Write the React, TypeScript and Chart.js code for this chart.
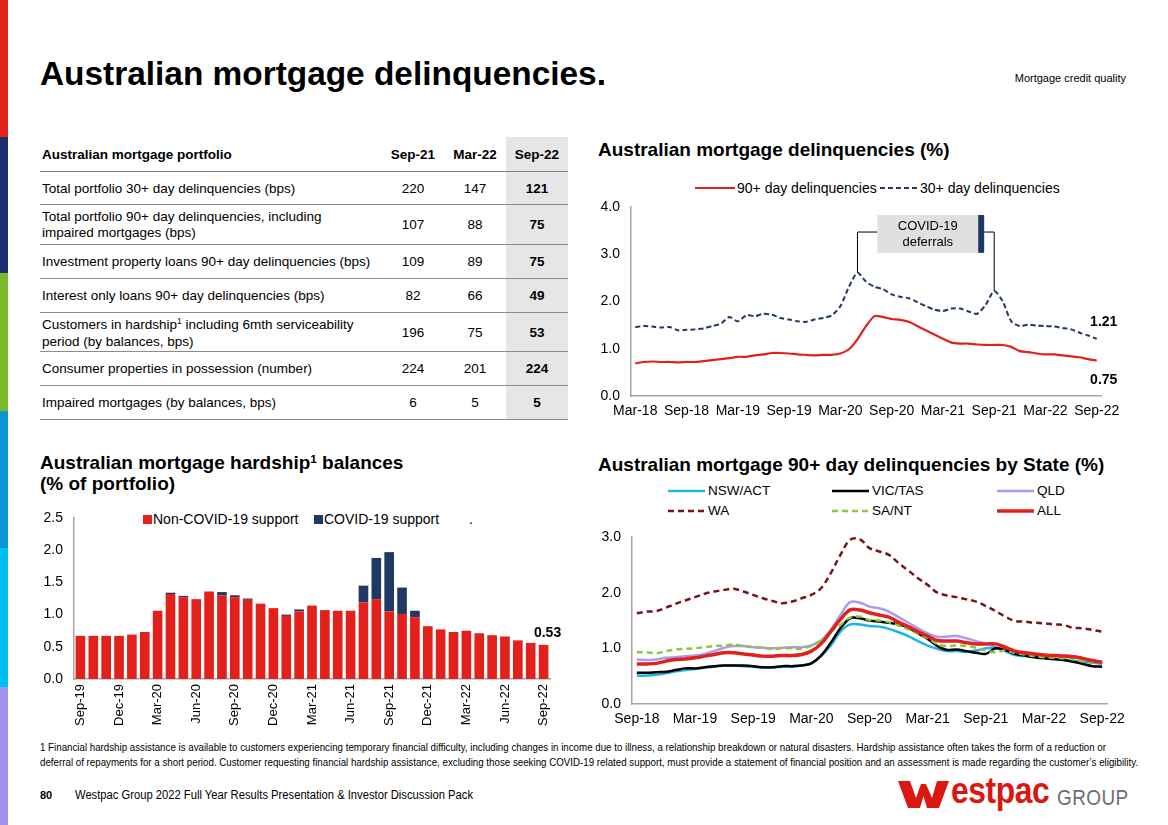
import React, { useEffect, useLayoutEffect, useRef } from 'react';
import { Chart, registerables } from 'chart.js';

Chart.register(...registerables);

const SANS = '"Liberation Sans", Arial, Helvetica, sans-serif';
const NARROW = '"Liberation Sans Narrow", "Arial Narrow", "Liberation Sans", Arial, sans-serif';
Chart.defaults.font.family = SANS;
Chart.defaults.color = '#000';

const RED = '#e3211c';
const NAVY = '#1f3864';
const AXIS = '#a6a6a6';

// ---------- Table data ----------
const tableTitle = 'Australian mortgage portfolio';
const tablePeriods = ['Sep-21', 'Mar-22', 'Sep-22'];
const tableLabels = [
  ['Total portfolio 30+ day delinquencies (bps)'],
  ['Total portfolio 90+ day delinquencies, including', 'impaired mortgages (bps)'],
  ['Investment property loans 90+ day delinquencies (bps)'],
  ['Interest only loans 90+ day delinquencies (bps)'],
  ['Customers in hardship¹ including 6mth serviceability', 'period (by balances, bps)'],
  ['Consumer properties in possession (number)'],
  ['Impaired mortgages (by balances, bps)'],
];
const valuesSep21 = [220, 107, 109, 82, 196, 224, 6];
const valuesMar22 = [147, 88, 89, 66, 75, 201, 5];
const valuesSep22 = [121, 75, 75, 49, 53, 224, 5];

// ---------- Delinquencies (%) chart ----------
const delinqMonths = [
  'Mar-18', 'Apr-18', 'May-18', 'Jun-18', 'Jul-18', 'Aug-18', 'Sep-18', 'Oct-18', 'Nov-18', 'Dec-18',
  'Jan-19', 'Feb-19', 'Mar-19', 'Apr-19', 'May-19', 'Jun-19', 'Jul-19', 'Aug-19', 'Sep-19', 'Oct-19', 'Nov-19', 'Dec-19',
  'Jan-20', 'Feb-20', 'Mar-20', 'Apr-20', 'May-20', 'Jun-20', 'Jul-20', 'Aug-20', 'Sep-20', 'Oct-20', 'Nov-20', 'Dec-20',
  'Jan-21', 'Feb-21', 'Mar-21', 'Apr-21', 'May-21', 'Jun-21', 'Jul-21', 'Aug-21', 'Sep-21', 'Oct-21', 'Nov-21', 'Dec-21',
  'Jan-22', 'Feb-22', 'Mar-22', 'Apr-22', 'May-22', 'Jun-22', 'Jul-22', 'Aug-22', 'Sep-22',
];
const delinq90 = [
  0.69, 0.72, 0.73, 0.72, 0.72, 0.71,
  0.72, 0.72, 0.74, 0.76, 0.78, 0.80, 0.83, 0.83, 0.86, 0.88, 0.91, 0.91,
  0.90, 0.88, 0.87, 0.86, 0.87, 0.87, 0.90, 0.99, 1.20, 1.48, 1.69, 1.67,
  1.63, 1.61, 1.57, 1.48, 1.39, 1.30, 1.21, 1.13, 1.11, 1.11, 1.09, 1.08,
  1.08, 1.08, 1.04, 0.95, 0.93, 0.90, 0.88, 0.88, 0.86, 0.84, 0.82, 0.78,
  0.75,
];
const delinq30 = [
  1.46, 1.48, 1.47, 1.45, 1.46, 1.39,
  1.40, 1.41, 1.43, 1.48, 1.53, 1.67, 1.58, 1.71, 1.69, 1.74, 1.72, 1.65,
  1.62, 1.58, 1.57, 1.62, 1.65, 1.71, 1.90, 2.31, 2.61, 2.42, 2.31, 2.26,
  2.15, 2.10, 2.07, 1.99, 1.90, 1.83, 1.80, 1.85, 1.85, 1.79, 1.74, 1.93,
  2.22, 2.00, 1.58, 1.48, 1.51, 1.49, 1.48, 1.47, 1.44, 1.41, 1.34, 1.28,
  1.21,
];
const deferralStart = 'May-20';
const deferralEnd = 'Sep-21';
const deferralText = ['COVID-19', 'deferrals'];

// ---------- Hardship balances chart ----------
const hardshipMonths = [
  'Sep-19', 'Oct-19', 'Nov-19', 'Dec-19', 'Jan-20', 'Feb-20', 'Mar-20', 'Apr-20', 'May-20', 'Jun-20',
  'Jul-20', 'Aug-20', 'Sep-20', 'Oct-20', 'Nov-20', 'Dec-20', 'Jan-21', 'Feb-21', 'Mar-21', 'Apr-21',
  'May-21', 'Jun-21', 'Jul-21', 'Aug-21', 'Sep-21', 'Oct-21', 'Nov-21', 'Dec-21', 'Jan-22', 'Feb-22',
  'Mar-22', 'Apr-22', 'May-22', 'Jun-22', 'Jul-22', 'Aug-22', 'Sep-22',
];
const nonCovidSupport = [
  0.67, 0.67, 0.67, 0.67, 0.69, 0.73, 1.06, 1.32, 1.27, 1.24,
  1.36, 1.30, 1.27, 1.23, 1.17, 1.10, 0.98, 1.05, 1.14, 1.07,
  1.06, 1.06, 1.19, 1.24, 1.05, 1.01, 0.96, 0.82, 0.77, 0.73,
  0.75, 0.71, 0.68, 0.66, 0.60, 0.56, 0.53,
];
const covidSupport = [
  0, 0, 0, 0, 0, 0, 0, 0.02, 0.02, 0,
  0, 0.05, 0.03, 0.02, 0, 0, 0.02, 0.03, 0, 0,
  0, 0, 0.26, 0.64, 0.92, 0.41, 0.10, 0, 0, 0,
  0, 0, 0, 0, 0, 0, 0,
];

// ---------- 90+ by State chart ----------
const stateMonths = [
  'Sep-18', 'Oct-18', 'Nov-18', 'Dec-18', 'Jan-19', 'Feb-19', 'Mar-19', 'Apr-19', 'May-19', 'Jun-19', 'Jul-19', 'Aug-19',
  'Sep-19', 'Oct-19', 'Nov-19', 'Dec-19', 'Jan-20', 'Feb-20', 'Mar-20', 'Apr-20', 'May-20', 'Jun-20', 'Jul-20', 'Aug-20',
  'Sep-20', 'Oct-20', 'Nov-20', 'Dec-20', 'Jan-21', 'Feb-21', 'Mar-21', 'Apr-21', 'May-21', 'Jun-21', 'Jul-21', 'Aug-21',
  'Sep-21', 'Oct-21', 'Nov-21', 'Dec-21', 'Jan-22', 'Feb-22', 'Mar-22', 'Apr-22', 'May-22', 'Jun-22', 'Jul-22', 'Aug-22',
  'Sep-22',
];
const nswAct = [
  0.51, 0.51, 0.53, 0.55, 0.59, 0.61, 0.63, 0.65, 0.67, 0.69, 0.69, 0.68,
  0.67, 0.66, 0.66, 0.67, 0.67, 0.69, 0.73, 0.86, 1.05, 1.30, 1.43, 1.43,
  1.40, 1.39, 1.35, 1.29, 1.22, 1.13, 1.05, 0.99, 0.95, 0.95, 0.94, 0.96,
  1.00, 1.01, 0.95, 0.88, 0.86, 0.85, 0.83, 0.81, 0.80, 0.78, 0.76, 0.74,
  0.72,
];
const vicTas = [
  0.56, 0.56, 0.57, 0.58, 0.61, 0.64, 0.64, 0.66, 0.68, 0.69, 0.69, 0.69,
  0.68, 0.66, 0.66, 0.68, 0.68, 0.69, 0.73, 0.87, 1.10, 1.36, 1.54, 1.54,
  1.50, 1.48, 1.46, 1.43, 1.37, 1.27, 1.17, 1.04, 0.97, 0.98, 0.95, 0.92,
  0.90, 1.00, 0.97, 0.90, 0.87, 0.84, 0.82, 0.81, 0.79, 0.76, 0.72, 0.68,
  0.67,
];
const qld = [
  0.80, 0.79, 0.80, 0.83, 0.84, 0.86, 0.87, 0.90, 0.95, 1.01, 1.04, 1.04,
  1.02, 1.01, 1.00, 1.01, 1.02, 1.02, 1.05, 1.14, 1.33, 1.60, 1.83, 1.82,
  1.75, 1.72, 1.66, 1.56, 1.46, 1.36, 1.27, 1.21, 1.21, 1.22, 1.18, 1.13,
  1.08, 1.02, 0.95, 0.92, 0.90, 0.89, 0.88, 0.87, 0.87, 0.86, 0.82, 0.78,
  0.75,
];
const wa = [
  1.63, 1.66, 1.67, 1.73, 1.80, 1.86, 1.92, 1.98, 2.02, 2.05, 2.07, 2.02,
  1.96, 1.90, 1.85, 1.81, 1.84, 1.90, 1.96, 2.08, 2.35, 2.68, 2.95, 2.96,
  2.80, 2.74, 2.68, 2.53, 2.40, 2.26, 2.14, 2.00, 1.95, 1.92, 1.88, 1.84,
  1.76, 1.67, 1.57, 1.49, 1.48, 1.46, 1.45, 1.43, 1.42, 1.37, 1.36, 1.33,
  1.30,
];
const saNt = [
  0.93, 0.93, 0.91, 0.95, 0.98, 0.99, 1.00, 1.02, 1.04, 1.05, 1.07, 1.04,
  1.02, 1.01, 0.99, 1.00, 1.00, 0.99, 1.05, 1.14, 1.30, 1.42, 1.55, 1.57,
  1.51, 1.50, 1.47, 1.41, 1.34, 1.26, 1.18, 1.08, 1.04, 1.05, 1.04, 1.01,
  0.96, 0.93, 0.96, 0.92, 0.89, 0.86, 0.84, 0.83, 0.82, 0.80, 0.77, 0.75,
  0.74,
];
const allStates = [
  0.72, 0.72, 0.73, 0.77, 0.80, 0.81, 0.83, 0.86, 0.89, 0.92, 0.92, 0.90,
  0.88, 0.86, 0.86, 0.87, 0.87, 0.89, 0.95, 1.08, 1.30, 1.52, 1.69, 1.69,
  1.64, 1.60, 1.56, 1.47, 1.39, 1.30, 1.22, 1.14, 1.13, 1.13, 1.10, 1.08,
  1.08, 1.08, 1.02, 0.95, 0.92, 0.90, 0.88, 0.87, 0.86, 0.85, 0.82, 0.78,
  0.75,
];
const stateNames = ['NSW/ACT', 'VIC/TAS', 'QLD', 'WA', 'SA/NT', 'ALL'];
const stateSeries = [nswAct, vicTas, qld, wa, saNt, allStates];
const stateStyles = [
  { color: '#1cb5e8', width: 2.5, dash: [] as number[], order: 3 },
  { color: '#000000', width: 2.5, dash: [] as number[], order: 2 },
  { color: '#a89cf0', width: 2.5, dash: [] as number[], order: 4 },
  { color: '#7a1418', width: 2.5, dash: [6, 4], order: 5 },
  { color: '#8dc63f', width: 2.5, dash: [6, 4], order: 1 },
  { color: RED, width: 3.5, dash: [] as number[], order: 0 },
];

// ---------- footer text ----------
const footnoteLines = [
  '1 Financial hardship assistance is available to customers experiencing temporary financial difficulty, including changes in income due to illness, a relationship breakdown or natural disasters. Hardship assistance often takes the form of a reduction or',
  'deferral of repayments for a short period. Customer requesting financial hardship assistance, excluding those seeking COVID-19 related support, must provide a statement of financial position and an assessment is made regarding the customer’s eligibility.',
];
const footerPage = '80';
const footerText = 'Westpac Group 2022 Full Year Results Presentation & Investor Discussion Pack';

const noGrid = { display: false, drawTicks: false };
const axisBorder = { display: true, color: AXIS, width: 1.5 };

function delinqConfig(): any {
  const covidPlugin = {
    id: 'covidBracket',
    afterDatasetsDraw(chart: any) {
      const { ctx } = chart;
      const x = chart.scales.x;
      const y = chart.scales.y;
      const i1 = delinqMonths.indexOf(deferralStart);
      const i2 = delinqMonths.indexOf(deferralEnd);
      const x1 = x.getPixelForValue(i1);
      const x2 = x.getPixelForValue(i2);
      const yb = y.getPixelForValue(3.47);
      const bt = y.getPixelForValue(3.83);
      const bb = y.getPixelForValue(3.03);
      const bl = x1 + 20;
      const br = x2 - 16;
      ctx.save();
      ctx.strokeStyle = '#000';
      ctx.lineWidth = 1;
      ctx.beginPath();
      ctx.moveTo(x1, y.getPixelForValue(delinq30[i1]));
      ctx.lineTo(x1, yb);
      ctx.lineTo(bl, yb);
      ctx.moveTo(br + 6, yb);
      ctx.lineTo(x2, yb);
      ctx.lineTo(x2, y.getPixelForValue(delinq30[i2]));
      ctx.stroke();
      ctx.fillStyle = '#e0e0e0';
      ctx.fillRect(bl, bt, br - bl, bb - bt);
      ctx.fillStyle = NAVY;
      ctx.fillRect(br, bt, 6, bb - bt);
      ctx.fillStyle = '#000';
      ctx.font = '13px ' + SANS;
      ctx.textAlign = 'center';
      ctx.textBaseline = 'middle';
      const cx = (bl + br) / 2;
      const cy = (bt + bb) / 2;
      ctx.fillText(deferralText[0], cx, cy - 8);
      ctx.fillText(deferralText[1], cx, cy + 8);
      ctx.restore();
    },
  };
  const endLabels = {
    id: 'endLabels',
    afterDatasetsDraw(chart: any) {
      const { ctx } = chart;
      const x = chart.scales.x;
      const y = chart.scales.y;
      const last = delinqMonths.length - 1;
      const lx = x.getPixelForValue(last) + 7;
      ctx.save();
      ctx.fillStyle = '#000';
      ctx.font = 'bold 14px ' + SANS;
      ctx.textAlign = 'center';
      ctx.textBaseline = 'middle';
      ctx.fillText(delinq30[last].toFixed(2), lx, y.getPixelForValue(delinq30[last]) - 17);
      ctx.fillText(delinq90[last].toFixed(2), lx, y.getPixelForValue(delinq90[last]) + 20);
      ctx.restore();
    },
  };
  return {
    type: 'line',
    data: {
      labels: delinqMonths,
      datasets: [
        { label: '90+ day delinquencies', data: delinq90, borderColor: RED, borderWidth: 2.2, pointRadius: 0, tension: 0.25, fill: false },
        { label: '30+ day delinquencies', data: delinq30, borderColor: NAVY, borderWidth: 2, borderDash: [5, 3], pointRadius: 0, tension: 0.25, fill: false },
      ],
    },
    options: {
      responsive: false,
      animation: false,
      devicePixelRatio: 1,
      layout: { padding: { top: 25, right: 29, bottom: 6, left: 0 } },
      plugins: { legend: { display: false }, tooltip: { enabled: false } },
      scales: {
        x: {
          offset: true,
          grid: noGrid,
          border: axisBorder,
          ticks: {
            autoSkip: false, maxRotation: 0, minRotation: 0, padding: 7, color: '#000', font: { size: 14 },
            callback: (_v: any, i: number) => (i % 6 === 0 ? delinqMonths[i] : ''),
          },
          afterFit: (s: any) => { s.height = 30; },
        },
        y: {
          min: 0, max: 4,
          grid: noGrid,
          border: axisBorder,
          ticks: { stepSize: 1, padding: 11, color: '#000', font: { size: 14 }, callback: (v: any) => Number(v).toFixed(1) },
          afterFit: (s: any) => { s.width = 41; },
        },
      },
    },
    plugins: [covidPlugin, endLabels],
  };
}

function hardshipConfig(): any {
  const lastLabel = {
    id: 'lastLabel',
    afterDatasetsDraw(chart: any) {
      const { ctx } = chart;
      const x = chart.scales.x;
      const y = chart.scales.y;
      const last = hardshipMonths.length - 1;
      const total = nonCovidSupport[last] + covidSupport[last];
      ctx.save();
      ctx.fillStyle = '#000';
      ctx.font = 'bold 14px ' + SANS;
      ctx.textAlign = 'center';
      ctx.textBaseline = 'middle';
      ctx.fillText(total.toFixed(2), x.getPixelForValue(last) + 4, y.getPixelForValue(total) - 12);
      ctx.restore();
    },
  };
  return {
    type: 'bar',
    data: {
      labels: hardshipMonths,
      datasets: [
        { label: 'Non-COVID-19 support', data: nonCovidSupport, backgroundColor: RED, barPercentage: 0.75, categoryPercentage: 1 },
        { label: 'COVID-19 support', data: covidSupport, backgroundColor: NAVY, barPercentage: 0.75, categoryPercentage: 1 },
      ],
    },
    options: {
      responsive: false,
      animation: false,
      devicePixelRatio: 1,
      layout: { padding: { top: 25, right: 25, bottom: 2, left: 0 } },
      plugins: { legend: { display: false }, tooltip: { enabled: false } },
      scales: {
        x: {
          stacked: true,
          grid: noGrid,
          border: axisBorder,
          ticks: {
            autoSkip: false, maxRotation: 90, minRotation: 90, padding: 5, color: '#000', font: { size: 13 },
            callback: (_v: any, i: number) => (i % 3 === 0 ? hardshipMonths[i] : ''),
          },
          afterFit: (s: any) => { s.height = 52; },
        },
        y: {
          stacked: true,
          min: 0, max: 2.5,
          grid: noGrid,
          border: axisBorder,
          ticks: { stepSize: 0.5, padding: 11, color: '#000', font: { size: 14 }, callback: (v: any) => Number(v).toFixed(1) },
          afterFit: (s: any) => { s.width = 39; },
        },
      },
    },
    plugins: [lastLabel],
  };
}

function stateConfig(): any {
  return {
    type: 'line',
    data: {
      labels: stateMonths,
      datasets: stateSeries.map((d, i) => ({
        label: stateNames[i],
        data: d,
        borderColor: stateStyles[i].color,
        borderWidth: stateStyles[i].width,
        borderDash: stateStyles[i].dash,
        order: stateStyles[i].order,
        pointRadius: 0,
        tension: 0.35,
        fill: false,
      })),
    },
    options: {
      responsive: false,
      animation: false,
      devicePixelRatio: 1,
      layout: { padding: { top: 25, right: 28, bottom: 3, left: 0 } },
      plugins: { legend: { display: false }, tooltip: { enabled: false } },
      scales: {
        x: {
          offset: true,
          grid: noGrid,
          border: axisBorder,
          ticks: {
            autoSkip: false, maxRotation: 0, minRotation: 0, padding: 7, color: '#000', font: { size: 14 },
            callback: (_v: any, i: number) => (i % 6 === 0 ? stateMonths[i] : ''),
          },
          afterFit: (s: any) => { s.height = 25; },
        },
        y: {
          min: 0, max: 3,
          grid: noGrid,
          border: axisBorder,
          ticks: { stepSize: 1, padding: 11, color: '#000', font: { size: 14 }, callback: (v: any) => Number(v).toFixed(1) },
          afterFit: (s: any) => { s.width = 42; },
        },
      },
    },
  };
}

function ChartBox({ make, left, top, width, height }: { make: () => any; left: number; top: number; width: number; height: number }) {
  const ref = useRef<HTMLCanvasElement | null>(null);
  useEffect(() => {
    if (!ref.current) return;
    const chart = new Chart(ref.current, make());
    return () => chart.destroy();
  }, []);
  return <canvas ref={ref} width={width} height={height} style={{ position: 'absolute', left, top, width, height }} />;
}

function FitText({ left, top, width, style, children }: { left: number; top: number; width: number; style: any; children: any }) {
  const ref = useRef<HTMLSpanElement | null>(null);
  useLayoutEffect(() => {
    const el = ref.current;
    if (!el) return;
    el.style.transform = 'none';
    const w = el.getBoundingClientRect().width;
    if (w > 0) el.style.transform = `scaleX(${width / w})`;
  }, []);
  return (
    <span ref={ref} style={{ position: 'absolute', left, top, whiteSpace: 'nowrap', display: 'inline-block', transformOrigin: 'left top', ...style }}>
      {children}
    </span>
  );
}

function LineSample({ left, top, width, color, stroke, dash }: { left: number; top: number; width: number; color: string; stroke: number; dash?: number[] }) {
  return (
    <svg style={{ position: 'absolute', left, top: top - 5 }} width={width} height={10}>
      <line x1={0} y1={5} x2={width} y2={5} stroke={color} strokeWidth={stroke} strokeDasharray={dash && dash.length ? dash.join(' ') : undefined} />
    </svg>
  );
}

const abs = (left: number, top: number, extra: any = {}) => ({ position: 'absolute' as const, left, top, whiteSpace: 'nowrap' as const, ...extra });

function Sup({ children }: { children: any }) {
  return <span style={{ fontSize: '0.62em', position: 'relative', top: '-0.5em' }}>{children}</span>;
}

function renderLabel(text: string) {
  const idx = text.indexOf('¹');
  if (idx < 0) return text;
  return (
    <>
      {text.slice(0, idx)}
      <Sup>1</Sup>
      {text.slice(idx + 1)}
    </>
  );
}

function Table() {
  const lines = [172, 205, 245, 279, 313, 352, 386, 420];
  const colCenters = [413, 475, 537];
  const cols = [valuesSep21, valuesMar22, valuesSep22];
  return (
    <>
      <div style={abs(506, 137, { width: 62, height: 283, background: '#e7e6e6' })} />
      <div style={abs(40, 137, { width: 528, height: 35, borderBottom: '1.5px solid #7f7f7f', boxSizing: 'border-box' })} />
      <div style={abs(42, 147, { fontSize: 13.5, lineHeight: '16px', fontWeight: 700 })}>{tableTitle}</div>
      {tablePeriods.map((p, j) => (
        <div key={p} style={abs(colCenters[j] - 30, 147, { width: 60, textAlign: 'center', fontSize: 13.5, lineHeight: '16px', fontWeight: 700 })}>{p}</div>
      ))}
      {tableLabels.map((lbl, i) => {
        const a = lines[i];
        const b = lines[i + 1];
        const c = (a + b) / 2;
        const h = lbl.length * 16;
        return (
          <React.Fragment key={i}>
            <div style={abs(40, a, { width: 528, height: b - a, borderBottom: '1px solid #8c8c8c', boxSizing: 'border-box' })} />
            <div style={abs(42, c - h / 2, { fontSize: 13.5, lineHeight: '16px' })}>
              {lbl.map((t, k) => (
                <div key={k}>{renderLabel(t)}</div>
              ))}
            </div>
            {cols.map((col, j) => (
              <div key={j} style={abs(colCenters[j] - 30, c - 8, { width: 60, textAlign: 'center', fontSize: 13.5, lineHeight: '16px', fontWeight: j === 2 ? 700 : 400 })}>
                {col[i]}
              </div>
            ))}
          </React.Fragment>
        );
      })}
    </>
  );
}

const stripeColors = ['#e3211c', '#1d2f6f', '#7ab929', '#0d96d4', '#00bdf2', '#a093f0'];
const stripeStops = [0, 137, 273, 411, 548, 687, 825];

export default function App() {
  const legendCols = [668, 832, 997];
  const legendRows = [491, 511];
  return (
    <div style={{ position: 'absolute', left: 0, top: 0, width: 1168, height: 825, background: '#fff', overflow: 'hidden', fontFamily: SANS, color: '#000' }}>
      {stripeColors.map((c, i) => (
        <div key={c} style={abs(0, stripeStops[i], { width: 8, height: stripeStops[i + 1] - stripeStops[i], background: c })} />
      ))}

      <div style={abs(40, 57, { fontSize: 33.4, lineHeight: '33px', fontWeight: 700 })}>Australian mortgage delinquencies.</div>
      <div style={{ position: 'absolute', right: 42, top: 73, fontSize: 11, lineHeight: '11px', whiteSpace: 'nowrap' }}>Mortgage credit quality</div>

      <Table />

      {/* Delinquencies chart */}
      <div style={abs(598, 140, { fontSize: 19, lineHeight: '19px', fontWeight: 700 })}>Australian mortgage delinquencies (%)</div>
      <LineSample left={695} top={188} width={40} color={RED} stroke={2} />
      <div style={abs(737, 180, { fontSize: 14, lineHeight: '16px' })}>90+ day delinquencies</div>
      <LineSample left={880} top={188} width={37} color={NAVY} stroke={2} dash={[5, 3]} />
      <div style={abs(920, 180, { fontSize: 14, lineHeight: '16px' })}>30+ day delinquencies</div>
      <ChartBox make={delinqConfig} left={590} top={182} width={540} height={250} />

      {/* Hardship chart */}
      <div style={abs(40, 453, { fontSize: 19, lineHeight: '19px', fontWeight: 700 })}>
        Australian mortgage hardship<Sup>1</Sup> balances
        <br />
        (% of portfolio)
      </div>
      <div style={abs(143, 515, { width: 9, height: 9, background: RED })} />
      <div style={abs(153, 511, { fontSize: 14, lineHeight: '16px' })}>Non-COVID-19 support</div>
      <div style={abs(314, 515, { width: 9, height: 9, background: NAVY })} />
      <div style={abs(324, 511, { fontSize: 14, lineHeight: '16px' })}>COVID-19 support</div>
      <div style={abs(469, 511, { fontSize: 14, lineHeight: '16px' })}>.</div>
      <ChartBox make={hardshipConfig} left={35} top={493} width={540} height={240} />

      {/* State chart */}
      <div style={abs(598, 455, { fontSize: 19, lineHeight: '19px', fontWeight: 700 })}>Australian mortgage 90+ day delinquencies by State (%)</div>
      {stateNames.map((n, i) => {
        const lx = legendCols[i % 3];
        const ly = legendRows[Math.floor(i / 3)];
        const st = stateStyles[i];
        return (
          <React.Fragment key={n}>
            <LineSample left={lx} top={ly} width={37} color={st.color} stroke={st.width} dash={st.dash} />
            <div style={abs(lx + 40, ly - 8, { fontSize: 13.5, lineHeight: '16px' })}>{n}</div>
          </React.Fragment>
        );
      })}
      <ChartBox make={stateConfig} left={590} top={512} width={545} height={220} />

      {/* Footnote */}
      <FitText left={40} top={740} width={1066} style={{ fontFamily: NARROW, fontSize: 10.5, lineHeight: '14px' }}>{footnoteLines[0]}</FitText>
      <FitText left={40} top={755} width={1098} style={{ fontFamily: NARROW, fontSize: 10.5, lineHeight: '14px' }}>{footnoteLines[1]}</FitText>

      {/* Footer */}
      <div style={abs(40, 788, { fontSize: 11, lineHeight: '14px', fontWeight: 700 })}>{footerPage}</div>
      <FitText left={75} top={788} width={398} style={{ fontFamily: NARROW, fontSize: 12, lineHeight: '14px' }}>{footerText}</FitText>

      {/* Logo */}
      <svg style={{ position: 'absolute', left: 898, top: 781 }} width={52} height={28}>
        <polygon points="0,0 12,0 18,17 23,3 28,3 34,17 39,0 51,0 41,27 29,27 25.5,15 22,27 10,27" fill="#da1710" />
      </svg>
      <div style={abs(951, 772, { fontSize: 37, lineHeight: '37px', fontWeight: 700, color: '#da1710', transform: 'scaleX(0.86)', transformOrigin: 'left top', letterSpacing: -0.5 })}>estpac</div>
      <div style={abs(1057, 787, { fontSize: 22, lineHeight: '22px', color: '#6d6e71', transform: 'scaleX(0.86)', transformOrigin: 'left top', letterSpacing: 0.5 })}>GROUP</div>
    </div>
  );
}
